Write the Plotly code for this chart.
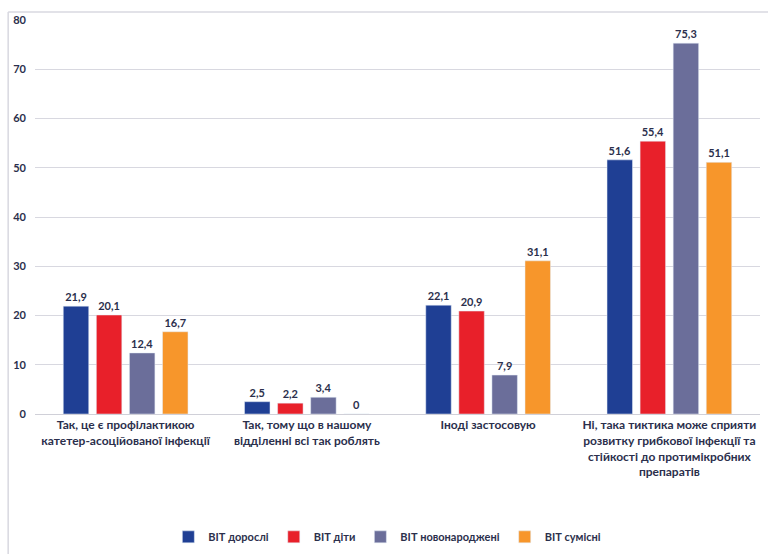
import plotly.graph_objects as go

categories = [
    "Так, це є профілактикою<br>катетер-асоційованої інфекції",
    "Так, тому що в нашому<br>відділенні всі так роблять",
    "Іноді застосовую",
    "Ні, така тиктика може сприяти<br>розвитку грибкової інфекції та<br>стійкості до протимікробних<br>препаратів",
]
series_names = ["ВІТ дорослі", "ВІТ діти", "ВІТ новонароджені", "ВІТ сумісні"]
adults = [21.9, 2.5, 22.1, 51.6]
children = [20.1, 2.2, 20.9, 55.4]
newborns = [12.4, 3.4, 7.9, 75.3]
mixed = [16.7, 0, 31.1, 51.1]
values = [adults, children, newborns, mixed]
colors = ["#1F3F94", "#E8202A", "#6B6E9A", "#F7962B"]
tick_vals = [0, 10, 20, 30, 40, 50, 60, 70, 80]

text_color = "#2B2F4C"
font_family = "Lato, 'Open Sans', sans-serif"

fig = go.Figure()
for name, vals, col in zip(series_names, values, colors):
    fig.add_trace(go.Bar(
        x=categories, y=vals, name=name, marker_color=col,
        text=[f"{v:g}".replace(".", ",") for v in vals],
        textposition="outside", cliponaxis=False,
        textfont=dict(size=11, color=text_color, family=font_family, weight="bold"),
    ))

fig.update_layout(
    width=768, height=554,
    margin=dict(l=35, r=8, t=20, b=140, autoexpand=False),
    paper_bgcolor="white", plot_bgcolor="white",
    barmode="group", bargap=0.27, bargroupgap=0.23,
    font=dict(family=font_family, color=text_color, size=12),
    showlegend=True,
    legend=dict(orientation="h", x=0.486, xanchor="center", y=-0.275, yanchor="top",
                font=dict(size=11, color=text_color, weight="bold"),
                itemwidth=30, traceorder="normal"),
    xaxis=dict(tickfont=dict(size=12, color=text_color, weight="bold"), automargin=False,
               showline=True, linecolor="#D0D0D8", linewidth=1, ticks=""),
    yaxis=dict(range=[0, 80], tickvals=tick_vals, showgrid=True, gridcolor="#D8D8E0",
               tickfont=dict(size=11, color=text_color, weight="bold"), automargin=False,
               zeroline=False, ticks="", ticklabelstandoff=8),
    shapes=[
        dict(type="line", xref="paper", yref="paper", x0=-0.037, x1=1.02, y0=1.02, y1=1.02,
             line=dict(color="#D8D8E0", width=1.5)),
        dict(type="line", xref="paper", yref="paper", x0=-0.037, x1=-0.037, y0=1.02, y1=-0.4,
             line=dict(color="#D8D8E0", width=1.5)),
    ],
)

fig.write_html("out.html", config={"displayModeBar": False},
               post_script="document.body.style.margin='0';")
